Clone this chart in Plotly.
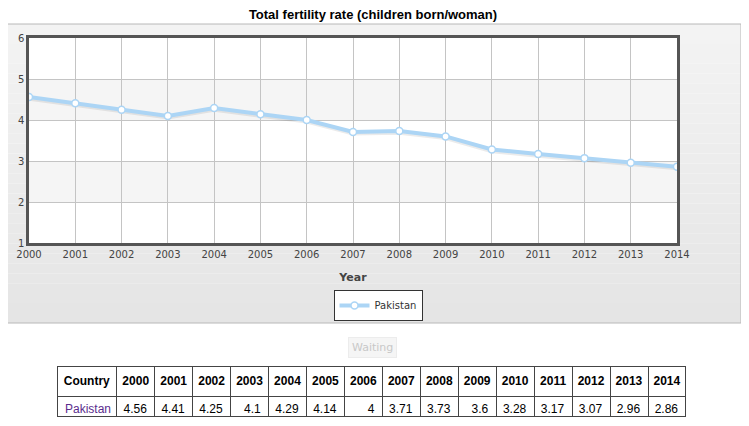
# Total fertility rate chart with data table (Pakistan, 2000-2014)
import plotly.graph_objects as go

# data
country = "Pakistan"
years = [2000, 2001, 2002, 2003, 2004, 2005, 2006, 2007,
         2008, 2009, 2010, 2011, 2012, 2013, 2014]
tfr = [4.56, 4.41, 4.25, 4.1, 4.29, 4.14, 4, 3.71,
       3.73, 3.6, 3.28, 3.17, 3.07, 2.96, 2.86]
y_ticks = [1, 2, 3, 4, 5, 6]

# page body has an 8px margin, so the figure is a bit smaller than the window
OFF = 8
W, H = 749 - 2 * OFF, 426 - 2 * OFF


def px_x(p):
    return (p - OFF) / W


def px_y(p):
    return 1 - (p - OFF) / H


fig = go.Figure()

# soft shadow under the line
fig.add_trace(go.Scatter(
    x=years, y=[v - 0.04 for v in tfr], mode="lines",
    line=dict(color="rgba(0,0,0,0.08)", width=4),
    showlegend=False, hoverinfo="skip",
))
fig.add_trace(go.Scatter(
    x=years, y=tfr, mode="lines+markers", name=country,
    line=dict(color="#acd5f5", width=4),
    marker=dict(size=7, color="white", line=dict(color="#acd5f5", width=1.5)),
))

# data table under the chart
header = ["<b>Country</b>"] + ["<b>%d</b>" % y for y in years]
cells = [[country]] + [["%g" % v] for v in tfr]
fig.add_trace(go.Table(
    domain=dict(x=[px_x(57), px_x(686)], y=[0, px_y(366)]),
    columnwidth=[60] + [38] * len(years),
    header=dict(values=header, height=20, align="center",
                fill_color="white", line=dict(color="#444", width=1),
                font=dict(family="Liberation Sans, Arial", size=12, color="black")),
    cells=dict(values=cells, height=20, align=["left"] + ["right"] * len(years),
               fill_color="white", line=dict(color="#444", width=1),
               font=dict(family="Liberation Sans, Arial", size=12,
                         color=["#5b2d8e"] + ["black"] * len(years))),
))

# outer chart panel (vertical gradient done with strips)
shapes = []
top, bottom, n = 24, 323, 30
c0, c1 = 0xf3, 0xe5
for i in range(n):
    y0 = top + (bottom - top) * i / n
    y1 = top + (bottom - top) * (i + 1) / n
    c = round(c0 + (c1 - c0) * i / (n - 1))
    shapes.append(dict(type="rect", xref="paper", yref="paper", layer="below",
                       x0=px_x(3), x1=px_x(741), y0=px_y(y1), y1=px_y(y0),
                       fillcolor="#%02x%02x%02x" % (c, c, c), line_width=0))
shapes.append(dict(type="rect", xref="paper", yref="paper", layer="below",
                   x0=px_x(3), x1=px_x(741), y0=px_y(bottom), y1=px_y(top),
                   fillcolor="rgba(0,0,0,0)", line=dict(color="#b8b8b8", width=1)))
# plot area: white with alternating light bands
shapes.append(dict(type="rect", xref="x domain", yref="y domain", layer="below",
                   x0=0, x1=1, y0=0, y1=1, fillcolor="white", line_width=0))
for lo in [2, 4]:
    shapes.append(dict(type="rect", xref="x domain", yref="y", layer="below",
                       x0=0, x1=1, y0=lo, y1=lo + 1, fillcolor="#f5f5f5", line_width=0))

fig.update_layout(
    width=W, height=H,
    margin=dict(l=0, r=0, t=0, b=0, autoexpand=False),
    paper_bgcolor="white",
    plot_bgcolor="rgba(0,0,0,0)",
    font=dict(family="DejaVu Sans, Verdana", size=10, color="#444"),
    title=dict(text="<b>Total fertility rate (children born/woman)</b>",
               x=px_x(373), xanchor="center", y=px_y(14), yanchor="middle",
               font=dict(family="Liberation Sans, Arial", size=13, color="black")),
    xaxis=dict(domain=[px_x(29), px_x(677)], range=[years[0], years[-1]],
               tickmode="array", tickvals=years, ticktext=[str(y) for y in years],
               showgrid=True, gridcolor="#c4c4c4", gridwidth=1,
               showline=True, linecolor="#555", linewidth=2.5, mirror=True,
               zeroline=False, ticks="", automargin=False,
               title=dict(text="<b>Year</b>", standoff=15,
                          font=dict(family="DejaVu Sans, Verdana", size=11, color="#444"))),
    yaxis=dict(domain=[px_y(243), px_y(38)], range=[1, 6],
               tickmode="array", tickvals=y_ticks,
               showgrid=True, gridcolor="#c4c4c4", gridwidth=1,
               showline=True, linecolor="#555", linewidth=2.5, mirror=True,
               zeroline=False, ticks="", automargin=False),
    showlegend=True,
    legend=dict(x=px_x(378), xanchor="center", y=px_y(290), yanchor="top",
                bgcolor="white", bordercolor="#333", borderwidth=1,
                itemwidth=30, font=dict(family="DejaVu Sans, Verdana", size=10, color="#333")),
    shapes=shapes,
    annotations=[dict(text="Waiting", xref="paper", yref="paper",
                      x=px_x(372), y=px_y(347), xanchor="center", yanchor="middle",
                      showarrow=False,
                      bgcolor="#f5f5f5", bordercolor="#ececec", borderwidth=1, borderpad=3,
                      font=dict(family="DejaVu Sans, Verdana", size=11, color="#c8c8c8"))],
)

fig.write_html("out.html")
